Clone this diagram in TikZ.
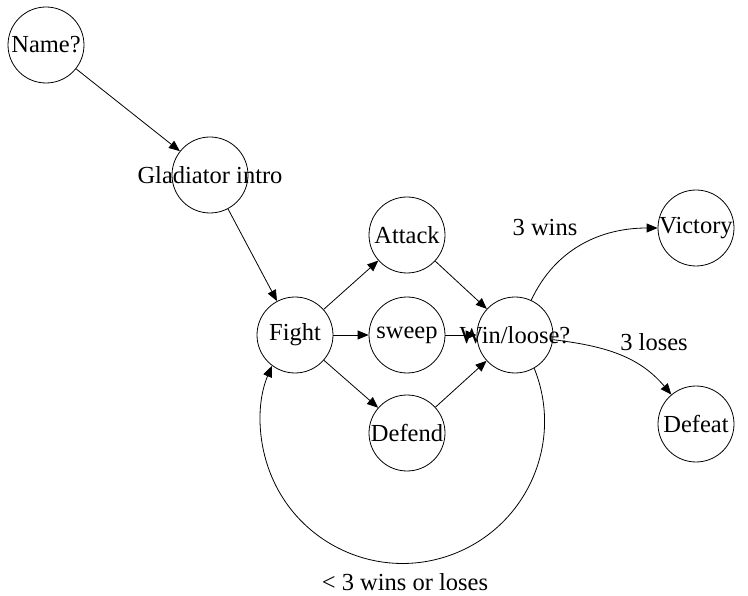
\documentclass[tikz,border=0pt]{standalone}
\usepackage{fontspec}
\setmainfont{Liberation Serif}
\usepackage{tikz}
\usetikzlibrary{arrows.meta}
\usetikzlibrary{calc}
\tikzset{state/.style={circle,draw=black,line width=0.8pt,minimum size=76pt,inner sep=0pt,font=\fontsize{24.5}{29}\selectfont}}
\tikzset{lbl/.style={inner sep=0pt,font=\fontsize{24.5}{29}\selectfont}}
\tikzset{arr/.style={line width=0.8pt,-{Triangle[length=11pt,width=9pt]}}}
\newcommand{\txt}[1]{\makebox[0pt]{#1}}

\begin{document}
\begin{tikzpicture}[x=1pt,y=1pt]
\useasboundingbox (0,0) rectangle (748,-596);

\node (Name) at (46,-45) [state] {\txt{Name?}};
\node (Intro) at (210,-175) [state] {\txt{Gladiator intro}};
\node (Fight) at (295,-335) [state] {\txt{Fight}};
\node (Attack) at (407,-235) [state] {\txt{Attack}};
\node (Sweep) at (407,-335) [state] {\txt{sweep}};
\node (Defend) at (407,-433) [state] {\txt{Defend}};
\node (Win) at (515,-335) [state] {\txt{Win/loose?}};
\node (Victory) at (696,-228) [state] {\txt{Victory}};
\node (Defeat) at (696,-424) [state] {\txt{Defeat}};

\node (LWins) at (545,-228) [lbl] {3 wins};
\node (LLoses) at (654,-342) [lbl] {3 loses};
\node (LLoop) at (405,-582) [lbl] {< 3 wins or loses};

\draw[arr] (Name) -- (Intro);
\draw[arr] (Intro) -- (Fight);
\foreach \m in {Attack,Sweep,Defend}
{
	\draw[arr] (Fight) -- (\m);
	\draw[arr] (\m) -- (Win);
}
\draw[arr] (Win) to[out=65,in=180] (Victory);
\draw[arr] (Win) to[out=-7,in=130] (Defeat);
%\draw[arr] (Win) to[out=-70,in=-100,looseness=3] (Fight);
\draw[arr] (Win.-60) arc[start angle=22,end angle=-203,radius=142];
\end{tikzpicture}
\end{document}
